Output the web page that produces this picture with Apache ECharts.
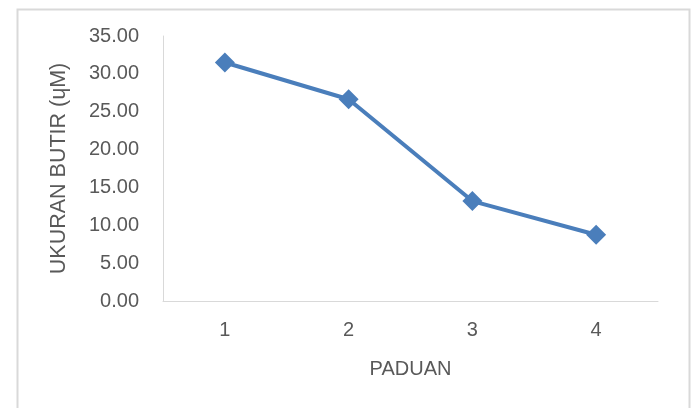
<!DOCTYPE html>
<html>
<head>
<meta charset="utf-8">
<script src="https://cdn.jsdelivr.net/npm/echarts@6/dist/echarts.min.js"></script>
<style>html,body{margin:0;padding:0;background:#fff}#c{width:691px;height:408px}</style>
</head>
<body>
<div id="c"></div>
<script>
const categories = ['1', '2', '3', '4'];
const values = [31.5, 26.65, 13.2, 8.75];
const yTicks = [0, 5, 10, 15, 20, 25, 30, 35];
const xName = 'PADUAN';
const yName = 'UKURAN BUTIR (ɥM)';

const chart = echarts.init(document.getElementById('c'), null, {renderer: 'canvas'});
const font = '"Liberation Sans", Arial, sans-serif';
chart.setOption({
  animation: false,
  backgroundColor: '#fff',
  graphic: [{
    type: 'rect', left: 15, top: 7,
    shape: {width: 672, height: 420},
    style: {fill: 'none', stroke: '#d9d9d9', lineWidth: 2},
    silent: true
  }],
  grid: {left: 163, right: 33, top: 36, bottom: 107, containLabel: false},
  xAxis: {
    type: 'category',
    data: categories,
    boundaryGap: true,
    name: xName,
    nameLocation: 'middle',
    nameGap: 58,
    nameTextStyle: {color: '#595959', fontSize: 20, fontFamily: font},
    axisLine: {lineStyle: {color: '#d9d9d9', width: 1}},
    axisTick: {show: false},
    axisLabel: {color: '#595959', fontSize: 20, fontFamily: font, margin: 19}
  },
  yAxis: {
    type: 'value',
    min: yTicks[0], max: yTicks[yTicks.length - 1], interval: 5,
    name: yName,
    nameLocation: 'middle',
    nameGap: 93,
    nameRotate: 90,
    nameTextStyle: {color: '#595959', fontSize: 21.5, fontFamily: font},
    axisLine: {show: true, lineStyle: {color: '#d9d9d9', width: 1}},
    axisTick: {show: false},
    splitLine: {show: false},
    axisLabel: {color: '#595959', fontSize: 20, fontFamily: font, margin: 24,
      formatter: v => v.toFixed(2)}
  },
  series: [{
    type: 'line',
    data: values,
    symbol: 'diamond',
    symbolSize: 20,
    lineStyle: {color: '#4a7ebb', width: 4},
    itemStyle: {color: '#4a7ebb'}
  }]
});
</script>
</body>
</html>
